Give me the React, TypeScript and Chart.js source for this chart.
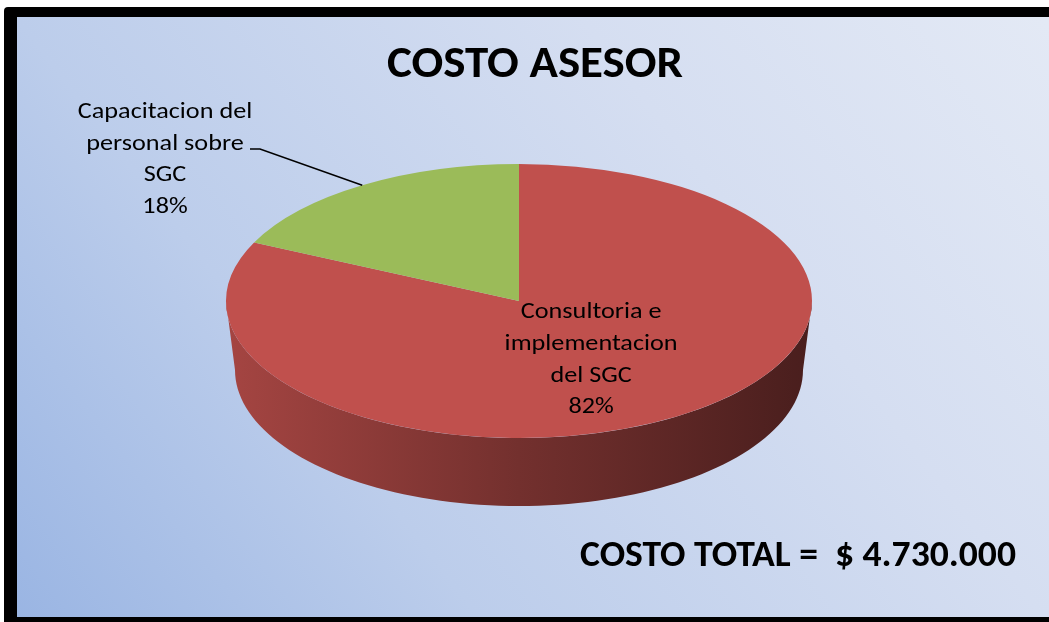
import React, { useEffect, useRef } from "react";
import { Chart, registerables } from "chart.js";

Chart.register(...registerables);

// ---- data ----
const TITLE = "COSTO ASESOR";
const TOTAL_TEXT = "COSTO TOTAL =  $ 4.730.000";
const categories = [
  "Consultoria e implementacion del SGC",
  "Capacitacion del personal sobre SGC",
];
const labelLines = [
  ["Consultoria e", "implementacion", "del SGC"],
  ["Capacitacion del", "personal sobre", "SGC"],
];
const values = [3880000, 850000];
const colors = ["#C0504D", "#9BBB59"];

// ---- look ----
const W = 1049;
const H = 622;
const RADIUS = 293;
const TILT = 137 / 293; // vertical squash of the pie top
const DEPTH = 69;
const BOTTOM_RX = 284 / 293;
const BOTTOM_RY = 136 / 293;
const FAMILY = '"Carlito", "Open Sans", sans-serif';

function shade(hex: string, f: number) {
  const n = parseInt(hex.slice(1), 16);
  const r = Math.round(((n >> 16) & 255) * f);
  const g = Math.round(((n >> 8) & 255) * f);
  const b = Math.round((n & 255) * f);
  return `rgb(${r},${g},${b})`;
}

function fitLine(ctx: CanvasRenderingContext2D, text: string, cx: number, base: number, sx: number) {
  ctx.save();
  ctx.translate(cx, base);
  ctx.scale(sx, 1);
  ctx.textAlign = "center";
  ctx.textBaseline = "alphabetic";
  ctx.fillText(text, 0, 0);
  ctx.restore();
}

const backgroundPlugin = {
  id: "bg",
  beforeDraw(chart: any) {
    const ctx = chart.ctx as CanvasRenderingContext2D;
    ctx.save();
    ctx.fillStyle = "#ffffff";
    ctx.fillRect(0, 0, W, H);
    ctx.fillStyle = "#000000";
    ctx.beginPath();
    (ctx as any).roundRect(4, 7, W + 20, H + 20, 4);
    ctx.fill();
    const g = ctx.createLinearGradient(17, 617, 950, -103);
    g.addColorStop(0, "#9ab5e3");
    g.addColorStop(0.31, "#bccdeb");
    g.addColorStop(0.69, "#d5def1");
    g.addColorStop(1, "#e3e9f5");
    ctx.fillStyle = g;
    ctx.fillRect(17, 17, W - 17, 617 - 17);
    ctx.restore();
  },
};

const pie3dPlugin = {
  id: "pie3d",
  beforeDatasetsDraw(chart: any) {
    const ctx = chart.ctx as CanvasRenderingContext2D;
    const meta = chart.getDatasetMeta(0);
    let cx = 0;
    let cy = 0;
    meta.data.forEach((arc: any, i: number) => {
      const p = arc.getProps(["x", "y", "startAngle", "endAngle", "outerRadius"], true);
      cx = p.x;
      cy = p.y;
      const R = p.outerRadius;
      const col = colors[i];
      for (const shift of [-2 * Math.PI, 0, 2 * Math.PI]) {
        const a = Math.max(p.startAngle + shift, 0);
        const b = Math.min(p.endAngle + shift, Math.PI);
        if (b <= a) continue;
        const steps = 90;
        ctx.save();
        ctx.beginPath();
        for (let s = 0; s <= steps; s++) {
          const t = a + ((b - a) * s) / steps;
          const px = p.x + R * Math.cos(t);
          const py = p.y + R * TILT * Math.sin(t);
          if (s === 0) ctx.moveTo(px, py);
          else ctx.lineTo(px, py);
        }
        for (let s = steps; s >= 0; s--) {
          const t = a + ((b - a) * s) / steps;
          const px = p.x + R * BOTTOM_RX * Math.cos(t);
          const py = p.y + DEPTH + R * BOTTOM_RY * Math.sin(t);
          ctx.lineTo(px, py);
        }
        ctx.closePath();
        const g = ctx.createLinearGradient(p.x - R, 0, p.x + R, 0);
        g.addColorStop(0, shade(col, 0.86));
        g.addColorStop(0.5, shade(col, 0.6));
        g.addColorStop(1, shade(col, 0.38));
        ctx.fillStyle = g;
        ctx.fill();
        ctx.restore();
      }
    });
    ctx.save();
    ctx.translate(cx, cy);
    ctx.scale(1, TILT);
    ctx.translate(-cx, -cy);
  },
  afterDatasetsDraw(chart: any) {
    const ctx = chart.ctx as CanvasRenderingContext2D;
    ctx.restore();
  },
  afterDraw(chart: any) {
    const ctx = chart.ctx as CanvasRenderingContext2D;
    const meta = chart.getDatasetMeta(0);
    const total = values.reduce((s, v) => s + v, 0);
    ctx.save();
    ctx.fillStyle = "#000000";

    // title
    ctx.font = `bold 44px ${FAMILY}`;
    fitLine(ctx, TITLE, 535, 77, 296 / ctx.measureText(TITLE).width);

    // total text
    ctx.font = `bold 37px ${FAMILY}`;
    fitLine(ctx, TOTAL_TEXT, 798, 566, 436 / ctx.measureText(TOTAL_TEXT).width);

    // data labels
    ctx.font = `22px ${FAMILY}`;
    const sx = 173 / ctx.measureText("implementacion").width;
    meta.data.forEach((arc: any, i: number) => {
      const p = arc.getProps(["x", "y", "startAngle", "endAngle", "outerRadius"], true);
      const m = (p.startAngle + p.endAngle) / 2;
      const pct = Math.round((values[i] / total) * 100) + "%";
      const lines = [...labelLines[i], pct];
      if (i === 0) {
        const lx = p.x + p.outerRadius * 0.46 * Math.cos(m);
        const ly = p.y + p.outerRadius * TILT * 0.46 * Math.sin(m);
        lines.forEach((t, k) => fitLine(ctx, t, lx, ly - 36 + 31.7 * k, sx));
      } else {
        const ex = p.x + p.outerRadius * Math.cos(m);
        const ey = p.y + p.outerRadius * TILT * Math.sin(m);
        ctx.strokeStyle = "#000000";
        ctx.lineWidth = 1.5;
        ctx.beginPath();
        ctx.moveTo(250, 149);
        ctx.lineTo(260, 149);
        ctx.lineTo(ex, ey);
        ctx.stroke();
        lines.forEach((t, k) => fitLine(ctx, t, 165, 118 + 31.7 * k, sx));
      }
    });
    ctx.restore();
  },
};

export default function App() {
  const ref = useRef<HTMLCanvasElement | null>(null);
  useEffect(() => {
    document.body.style.margin = "0";
    if (!ref.current) return;
    const chart = new Chart(ref.current, {
      type: "pie",
      data: {
        labels: categories,
        datasets: [
          {
            data: values,
            backgroundColor: colors,
            borderWidth: 0,
            hoverOffset: 0,
            offset: 0,
          },
        ],
      },
      options: {
        animation: false,
        responsive: false,
        maintainAspectRatio: false,
        radius: RADIUS,
        layout: { padding: { left: 226, right: 237, top: 8, bottom: 28 } },
        plugins: {
          legend: { display: false },
          tooltip: { enabled: false },
          title: { display: false },
        },
        events: [],
      } as any,
      plugins: [backgroundPlugin, pie3dPlugin],
    });
    return () => chart.destroy();
  }, []);
  return (
    <div style={{ width: W, height: H }}>
      <canvas ref={ref} width={W} height={H} style={{ display: "block", width: W, height: H }} />
    </div>
  );
}
